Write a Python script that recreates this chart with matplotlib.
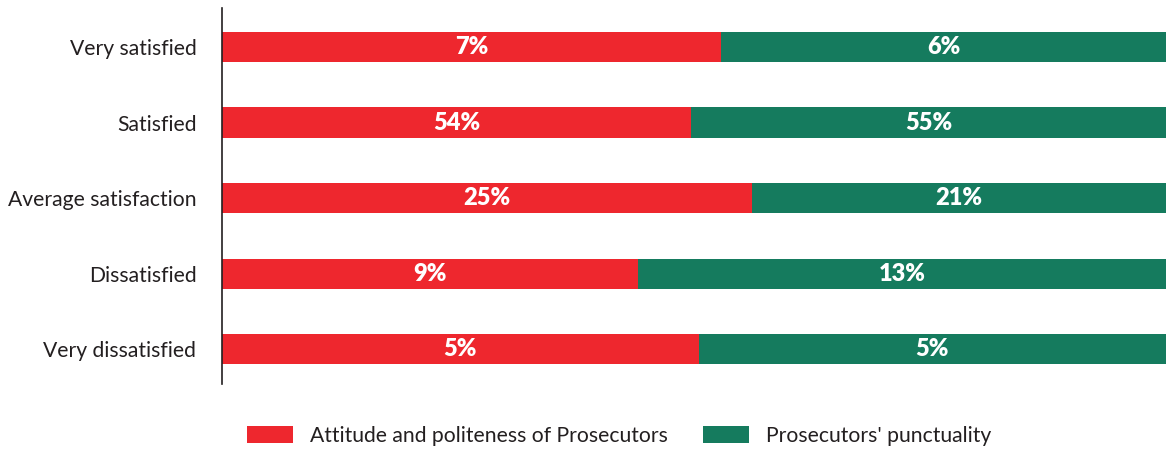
import matplotlib.pyplot as plt
import numpy as np

plt.rcParams['font.family'] = ['Lato', 'DejaVu Sans']

categories = ['Very satisfied', 'Satisfied', 'Average satisfaction', 'Dissatisfied', 'Very dissatisfied']
attitude_labels = ['7%', '54%', '25%', '9%', '5%']
punctuality_labels = ['6%', '55%', '21%', '13%', '5%']
# share of each bar's length taken by the red segment
attitude_share = [52.9, 49.7, 56.1, 44.1, 50.5]
punctuality_share = [47.1, 50.3, 43.9, 55.9, 49.5]

red = '#EE272E'
green = '#157B5E'

fig = plt.figure(figsize=(11.66, 4.51), dpi=100)
ax = fig.add_axes([222 / 1166, 1 - 384 / 451, 1 - 222 / 1166, 376 / 451])

y = np.arange(len(categories))
ax.barh(y, attitude_share, height=0.4, color=red, label='Attitude and politeness of Prosecutors')
ax.barh(y, punctuality_share, left=attitude_share, height=0.4, color=green, label="Prosecutors' punctuality")

for i in range(len(categories)):
    ax.text(attitude_share[i] / 2, i, attitude_labels[i], color='white', fontsize=17,
            fontweight='heavy', ha='center', va='center')
    ax.text(attitude_share[i] + punctuality_share[i] / 2, i, punctuality_labels[i], color='white',
            fontsize=17, fontweight='heavy', ha='center', va='center')

ax.set_xlim(0, 100)
ax.set_ylim(4.46, -0.517)
ax.set_yticks(y)
ax.set_yticklabels(categories, fontsize=15.2, color='#231F20')
ax.tick_params(axis='y', length=0, pad=18.5)
ax.set_xticks([])
for s in ['top', 'right', 'bottom']:
    ax.spines[s].set_visible(False)
ax.spines['left'].set_color('#231F20')
ax.spines['left'].set_linewidth(1.2)

fig.legend(loc='center', bbox_to_anchor=(0.531, 1 - 436 / 451), ncol=2, frameon=False,
           fontsize=15.2, handlelength=2.2, handleheight=0.86, handletextpad=0.8,
           columnspacing=1.65, labelcolor='#231F20')

fig.savefig('out.png', dpi=100)
